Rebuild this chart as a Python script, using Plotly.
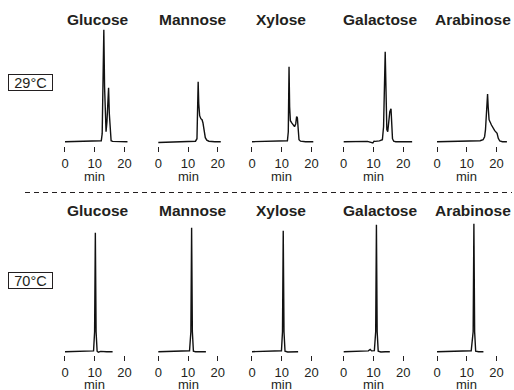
import plotly.graph_objects as go

# ---------------------------------------------------------------
# HPLC chromatograms of five sugars at two column temperatures
# (retention time in min, detector signal in arbitrary units)
# ---------------------------------------------------------------
sugars = ["Glucose", "Mannose", "Xylose", "Galactose", "Arabinose"]
temperatures = ["29°C", "70°C"]
tick_values = [0, 10, 20]
tick_labels = ["0", "10", "20"]
axis_title = "min"

# 29 °C runs
glc_29_t = [0, 3, 6, 9, 11, 12.2, 12.5, 12.8, 13.05, 13.3, 13.55, 13.8, 14.1, 14.4, 14.65, 14.9, 15.2, 15.5, 16, 18, 21]
glc_29_y = [0, 0.3, 0.2, 0.4, 0.5, 1, 8, 60, 112, 55, 14, 10, 20, 42, 54, 28, 6, 1, 0.3, 0, 0]

man_29_t = [0, 4, 8, 11, 12.5, 13.0, 13.2, 13.4, 13.6, 13.9, 14.3, 14.7, 15.0, 15.4, 15.8, 16.3, 17, 19, 21]
man_29_y = [-0.8, -0.5, 0, 0.2, 0.5, 3, 35, 60, 38, 26, 23, 22, 19, 10, 4, 1.5, 0.5, 0, 0]

xyl_29_t = [0, 4, 8, 11, 11.9, 12.2, 12.45, 12.65, 12.9, 13.3, 13.8, 14.3, 14.7, 15.0, 15.25, 15.5, 15.8, 16.3, 18, 20.6]
xyl_29_y = [0, 0.2, 0.3, 0.5, 1, 10, 75, 35, 21, 19, 17, 15, 18, 25, 24, 10, 2, 0.5, 0, 0]

gal_29_t = [0, 4, 8, 9.8, 10.2, 10.6, 12, 13.0, 13.4, 13.95, 14.2, 14.5, 14.8, 15.1, 15.5, 15.9, 16.15, 16.4, 16.8, 17.5, 20, 23]
gal_29_y = [0, 0.2, 0.3, -1.2, 0.5, 0.3, 0.8, 2, 15, 90, 45, 12, 10, 18, 30, 33, 15, 3, 0.5, 0, 0, 0]

ara_29_t = [0, 3, 6, 7.4, 8.5, 11, 13, 14.5, 15.5, 16.0, 16.3, 16.7, 17.0, 17.2, 17.5, 18.3, 19.4, 20.2, 20.6, 21.1, 22, 23.5]
ara_29_y = [0, 0.2, 0.3, 0.8, 0.3, 0.4, 0.6, 1, 2, 5, 12, 35, 47.7, 35, 22, 16.7, 11, 8.4, 3.4, 0.7, 0, 0]

# 70 °C runs
glc_70_t = [0, 3, 6, 7, 8.5, 9.6, 9.95, 10.2, 10.45, 10.8, 11.2, 12, 14, 16]
glc_70_y = [0, 0.3, 0.8, 0.3, 0.5, 0.8, 20, 119, 20, 0.5, -0.5, 0.3, 0, 0]

man_70_t = [0, 3, 6, 9, 10.5, 10.95, 11.2, 11.45, 11.8, 12.5, 14, 16]
man_70_y = [0, 0.4, 0.6, 0.8, 1, 20, 124, 20, 0.5, 0, -0.3, 0]

xyl_70_t = [0, 3, 6, 8.5, 9.9, 10.25, 10.5, 10.75, 11.1, 12, 14, 15.5]
xyl_70_y = [0, 0.3, 0.5, 0.8, 1, 20, 121, 20, 0.5, -0.3, 0, 0]

gal_70_t = [0, 3, 6, 8.3, 8.9, 9.4, 10.3, 10.75, 11.0, 11.25, 11.6, 12.5, 14, 15.5]
gal_70_y = [0, 0.2, 0.5, 0.8, 2.2, 0.8, 1, 20, 127, 20, 0.5, -0.3, 0, 0]

ara_70_t = [0, 3, 6, 9, 11.5, 12.15, 12.4, 12.65, 13.0, 14, 15.6]
ara_70_y = [0, 0.3, 0.4, 0.6, 1, 20, 128, 20, 0.5, 0, 0]

runs = [
    [(glc_29_t, glc_29_y), (man_29_t, man_29_y), (xyl_29_t, xyl_29_y), (gal_29_t, gal_29_y), (ara_29_t, ara_29_y)],
    [(glc_70_t, glc_70_y), (man_70_t, man_70_y), (xyl_70_t, xyl_70_y), (gal_70_t, gal_70_y), (ara_70_t, ara_70_y)],
]

# ---------------------------------------------------------------
# page geometry (pixels)
# ---------------------------------------------------------------
W, H = 514, 390
INK = "#231f20"
FONT = "Liberation Sans, Arial, Helvetica, sans-serif"

panel_x0 = [65, 158.3, 252, 343.7, 437]   # pixel of t = 0 in each column
px_per_min = 2.975
x_range = [-1, 25]

row_baseline = [141.7, 351.7]             # pixel of signal = 0
row_yrange = [[-4.5, 125], [-3.5, 130]]   # 1 signal unit = 1 px

title_x = [97.8, 193.2, 280.8, 379.7, 473.3]
title_y = [19.5, 210.5]
min_y = [177, 384]
temp_y = [82, 280]


def fx(px):
    return px / W


def fy(py):
    return 1 - py / H


fig = go.Figure()
layout_axes = {}
annotations = []

for r in range(2):
    for c in range(5):
        k = r * 5 + c + 1
        xname = "x" if k == 1 else f"x{k}"
        yname = "y" if k == 1 else f"y{k}"
        t, s = runs[r][c]
        fig.add_trace(go.Scatter(
            x=t, y=s, mode="lines", xaxis=xname, yaxis=yname,
            line=dict(color="#111111", width=1.4, shape="linear"),
            hoverinfo="skip", showlegend=False,
        ))

        left = panel_x0[c] + x_range[0] * px_per_min
        right = panel_x0[c] + x_range[1] * px_per_min
        lo, hi = row_yrange[r]
        bottom_px = row_baseline[r] - lo
        top_px = row_baseline[r] - hi

        xkey = "xaxis" if k == 1 else f"xaxis{k}"
        ykey = "yaxis" if k == 1 else f"yaxis{k}"
        layout_axes[xkey] = dict(
            domain=[fx(left), fx(right)], range=x_range, anchor=yname,
            showgrid=False, zeroline=False, showline=False,
            ticks="outside", ticklen=5, tickwidth=1, tickcolor=INK,
            tickvals=tick_values, ticktext=tick_labels,
            tickfont=dict(family=FONT, size=13, color=INK),
            fixedrange=True,
        )
        layout_axes[ykey] = dict(
            domain=[fy(bottom_px), fy(top_px)], range=[lo, hi], anchor=xname,
            visible=False, fixedrange=True,
        )

        annotations.append(dict(
            x=10, y=fy(min_y[r]), xref=xname, yref="paper",
            text=axis_title, showarrow=False,
            font=dict(family=FONT, size=13, color=INK),
            xanchor="center", yanchor="middle",
        ))
        annotations.append(dict(
            x=fx(title_x[c]), y=fy(title_y[r]), xref="paper", yref="paper",
            text=f"<b>{sugars[c]}</b>", showarrow=False,
            font=dict(family=FONT, size=15.5, color=INK),
            xanchor="center", yanchor="middle",
        ))

    annotations.append(dict(
        x=fx(30.8), y=fy(temp_y[r]), xref="paper", yref="paper",
        text=temperatures[r], showarrow=False,
        font=dict(family=FONT, size=14.5, color=INK),
        xanchor="center", yanchor="middle",
        bordercolor=INK, borderwidth=1, borderpad=1,
        width=41, height=13,
    ))

fig.update_layout(
    width=W, height=H,
    margin=dict(l=0, r=0, t=0, b=0),
    paper_bgcolor="white", plot_bgcolor="white",
    annotations=annotations,
    shapes=[dict(
        type="line", xref="paper", yref="paper",
        x0=fx(25), x1=fx(512), y0=fy(192.5), y1=fy(192.5),
        line=dict(color=INK, width=1.2, dash="5px,4px"),
    )],
    **layout_axes,
)

fig.write_html("out.html")
